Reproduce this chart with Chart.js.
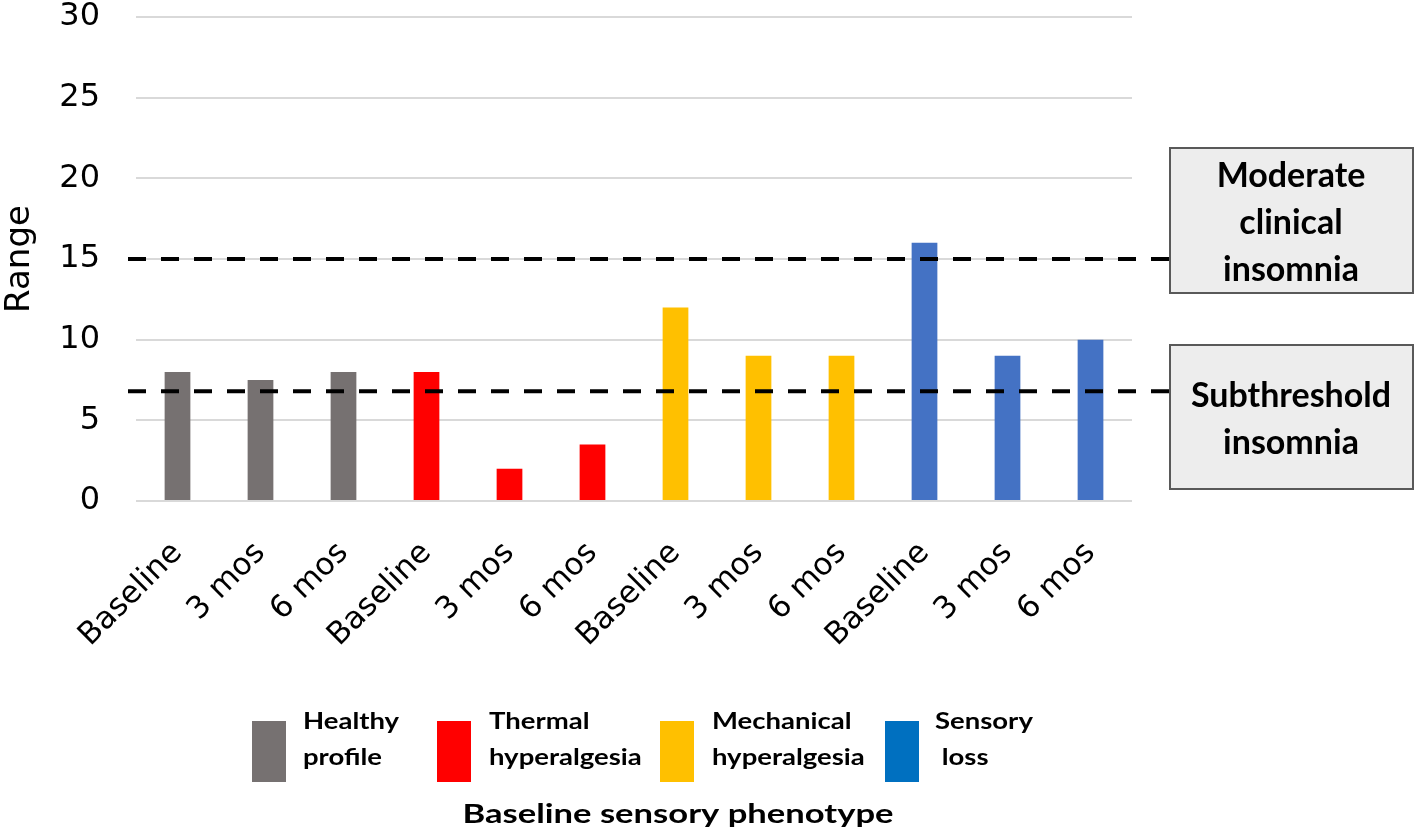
<!DOCTYPE html>
<html lang="en">
<head>
    <meta charset="UTF-8">
    <title>Insomnia range by baseline sensory phenotype</title>
    <script src="https://cdn.jsdelivr.net/npm/chart.js"></script>
    <style>
        body { margin: 0; background: #fff; }
        #wrap { width: 1416px; height: 835px; position: relative; }
    </style>
</head>
<body>
    <div id="wrap"><canvas id="chart"></canvas></div>

    <script>
        // Data
        const timepoints = ['Baseline', '3 mos', '6 mos'];
        const groupNames = ['Healthy profile', 'Thermal hyperalgesia', 'Mechanical hyperalgesia', 'Sensory loss'];
        const legendLines = [['Healthy', 'profile'], ['Thermal', 'hyperalgesia'], ['Mechanical', 'hyperalgesia'], ['Sensory', ' loss']];
        const healthyProfile = [8, 7.5, 8];
        const thermalHyperalgesia = [8, 2, 3.5];
        const mechanicalHyperalgesia = [12, 9, 9];
        const sensoryLoss = [16, 9, 10];
        const yTicks = [0, 5, 10, 15, 20, 25, 30];
        const thresholdValues = [15, 6.8];
        const thresholdLabels = [['Moderate', 'clinical', 'insomnia'], ['Subthreshold', 'insomnia']];

        const barColors = ['#767171', '#ff0000', '#ffc000', '#4472c4'];
        const legendColors = ['#767171', '#ff0000', '#ffc000', '#0070c0'];

        const series = [healthyProfile, thermalHyperalgesia, mechanicalHyperalgesia, sensoryLoss];
        const labels = [];
        const values = [];
        const colors = [];
        series.forEach((s, g) => {
            s.forEach((v, i) => {
                labels.push(timepoints[i]);
                values.push(v);
                colors.push(barColors[g]);
            });
        });

        const boldFont = 'Lato, "Open Sans", sans-serif';

        // text that is wider than the font would draw it (the figure is stretched sideways)
        function wideText(ctx, text, x, y, sx, align) {
            ctx.save();
            ctx.translate(x, y);
            ctx.scale(sx, 1);
            ctx.textAlign = align;
            ctx.fillText(text, 0, 0);
            ctx.restore();
        }

        // dashed threshold lines + their boxes on the right
        const thresholdPlugin = {
            id: 'thresholds',
            afterDatasetsDraw(chart) {
                const { ctx } = chart;
                const y = chart.scales.y;
                ctx.save();
                ctx.strokeStyle = '#000';
                ctx.lineWidth = 4;
                ctx.setLineDash([18, 15]);
                thresholdValues.forEach(v => {
                    const py = y.getPixelForValue(v);
                    ctx.beginPath();
                    ctx.moveTo(128, py);
                    ctx.lineTo(1170, py);
                    ctx.stroke();
                });
                ctx.setLineDash([]);

                const boxes = [{ top: 148, h: 145 }, { top: 345, h: 144 }];
                ctx.font = 'bold 34px ' + boldFont;
                ctx.textAlign = 'center';
                ctx.textBaseline = 'alphabetic';
                boxes.forEach((b, i) => {
                    ctx.fillStyle = '#ededed';
                    ctx.fillRect(1170, b.top, 243, b.h);
                    ctx.strokeStyle = '#595959';
                    ctx.lineWidth = 2;
                    ctx.strokeRect(1170, b.top, 243, b.h);
                    ctx.fillStyle = '#000';
                    const lines = thresholdLabels[i];
                    const lh = 47;
                    const cy = b.top + b.h / 2 + 13;
                    lines.forEach((t, k) => {
                        ctx.fillText(t, 1291, cy + (k - (lines.length - 1) / 2) * lh);
                    });
                });
                ctx.restore();
            }
        };

        // group legend and the "Baseline sensory phenotype" caption
        const legendPlugin = {
            id: 'groupLegend',
            afterDraw(chart) {
                const { ctx } = chart;
                const boxX = [252, 437, 660, 885];
                const textX = [303, 489, 712, 935];
                ctx.save();
                ctx.textBaseline = 'alphabetic';
                legendLines.forEach((lines, i) => {
                    ctx.fillStyle = legendColors[i];
                    ctx.fillRect(boxX[i], 721, 34, 61);
                    ctx.fillStyle = '#000';
                    ctx.font = 'bold 22px ' + boldFont;
                    wideText(ctx, lines[0], textX[i], 729, 1.25, 'left');
                    wideText(ctx, lines[1], textX[i], 765, 1.25, 'left');
                });
                ctx.font = 'bold 26px ' + boldFont;
                wideText(ctx, 'Baseline sensory phenotype', 678, 823, 1.33, 'center');
                ctx.restore();
            }
        };

        new Chart(document.getElementById('chart'), {
            type: 'bar',
            data: {
                labels: labels,
                datasets: [{
                    label: 'Range',
                    data: values,
                    backgroundColor: colors,
                    barPercentage: 0.31,
                    categoryPercentage: 1
                }]
            },
            options: {
                responsive: true,
                maintainAspectRatio: false,
                animation: false,
                layout: { padding: { top: 16, right: 284, left: 0, bottom: 0 } },
                plugins: {
                    legend: { display: false },
                    tooltip: { enabled: false }
                },
                scales: {
                    x: {
                        grid: { display: false },
                        border: { display: false },
                        ticks: {
                            color: '#000',
                            autoSkip: false,
                            minRotation: 45,
                            maxRotation: 45,
                            padding: 26,
                            font: { family: '"DejaVu Sans", sans-serif', size: 31 }
                        },
                        afterFit(scale) { scale.height = 334; }
                    },
                    y: {
                        min: 0,
                        max: 30,
                        afterBuildTicks(scale) { scale.ticks = yTicks.map(v => ({ value: v })); },
                        grid: { color: '#d9d9d9', lineWidth: 2, drawTicks: true, tickLength: 35, tickColor: 'rgba(0,0,0,0)' },
                        border: { display: false },
                        ticks: {
                            color: '#000',
                            padding: 1,
                            font: { family: '"DejaVu Sans", sans-serif', size: 32, lineHeight: 1 }
                        },
                        title: {
                            display: true,
                            text: 'Range',
                            color: '#000',
                            padding: 0,
                            font: { family: '"DejaVu Sans", sans-serif', size: 34 }
                        },
                        afterFit(scale) { scale.width = 136; }
                    }
                }
            },
            plugins: [thresholdPlugin, legendPlugin]
        });
    </script>
</body>
</html>
